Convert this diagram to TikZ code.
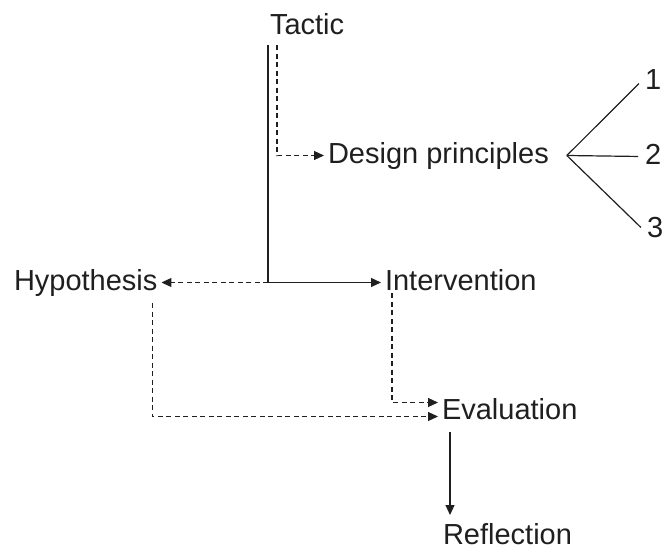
\documentclass[tikz,border=0pt]{standalone}
\usepackage{fontspec}
\setmainfont{Liberation Sans}
\usetikzlibrary{arrows.meta}

\begin{document}
\begin{tikzpicture}[x=1pt, y=-1pt, line width=1.2pt, color=black!88,
    label/.style={inner sep=0pt, outer sep=4pt, anchor=base west,
      text height=21pt, text depth=6pt, font=\fontsize{29}{34}\selectfont},
    flow/.style={-{Triangle[length=10pt,width=9pt]}},
    dashflow/.style={flow, dash pattern=on 5pt off 3.5pt}]
  \useasboundingbox (0,0) rectangle (662,549);
  % texts
  \node[label] (tactic) at (266,34) {Tactic};
  \node[label] (design) at (324,163) {Design principles};
  \node[label] (hypothesis) at (10,290) {Hypothesis};
  \node[label] (intervention) at (381,290) {Intervention};
  \node[label] (evaluation) at (438,419) {Evaluation};
  \node[label, text depth=0pt, outer sep=0pt] (reflection) at (443,544) {Reflection};
  \node[label] (one) at (641,89) {1};
  \node[label] (two) at (641,164) {2};
  \node[label] (three) at (643,237) {3};
  \coordinate (spine) at ([xshift=2pt]tactic.south west);
  \coordinate (fan) at ([xshift=14pt]design.east);
  % connectors
  \draw[flow, shorten <=1pt] (spine) |- (intervention.west);
  \draw[dashflow, shorten <=1pt] ([xshift=11pt]tactic.south west) |- (design.west);
  \draw[dashflow] (spine |- intervention.west) -- (hypothesis.east);
  \draw[dashflow, shorten <=3pt] ([xshift=-9pt]hypothesis.south east) |- ([yshift=-5pt]evaluation.west);
  \draw[dashflow] ([xshift=11pt,yshift=7pt]intervention.south west) |- ([yshift=9pt]evaluation.west);
  \draw[flow, shorten <=3pt, shorten >=8pt] ([xshift=12pt]evaluation.south west) -- ([xshift=7pt]reflection.north west);
  \draw[shorten >=3pt] (fan) -- (one.west);
  \draw[shorten >=3pt] (fan) -- (two.west);
  \draw[shorten >=3pt] (fan) -- (three.west);
\end{tikzpicture}
\end{document}
